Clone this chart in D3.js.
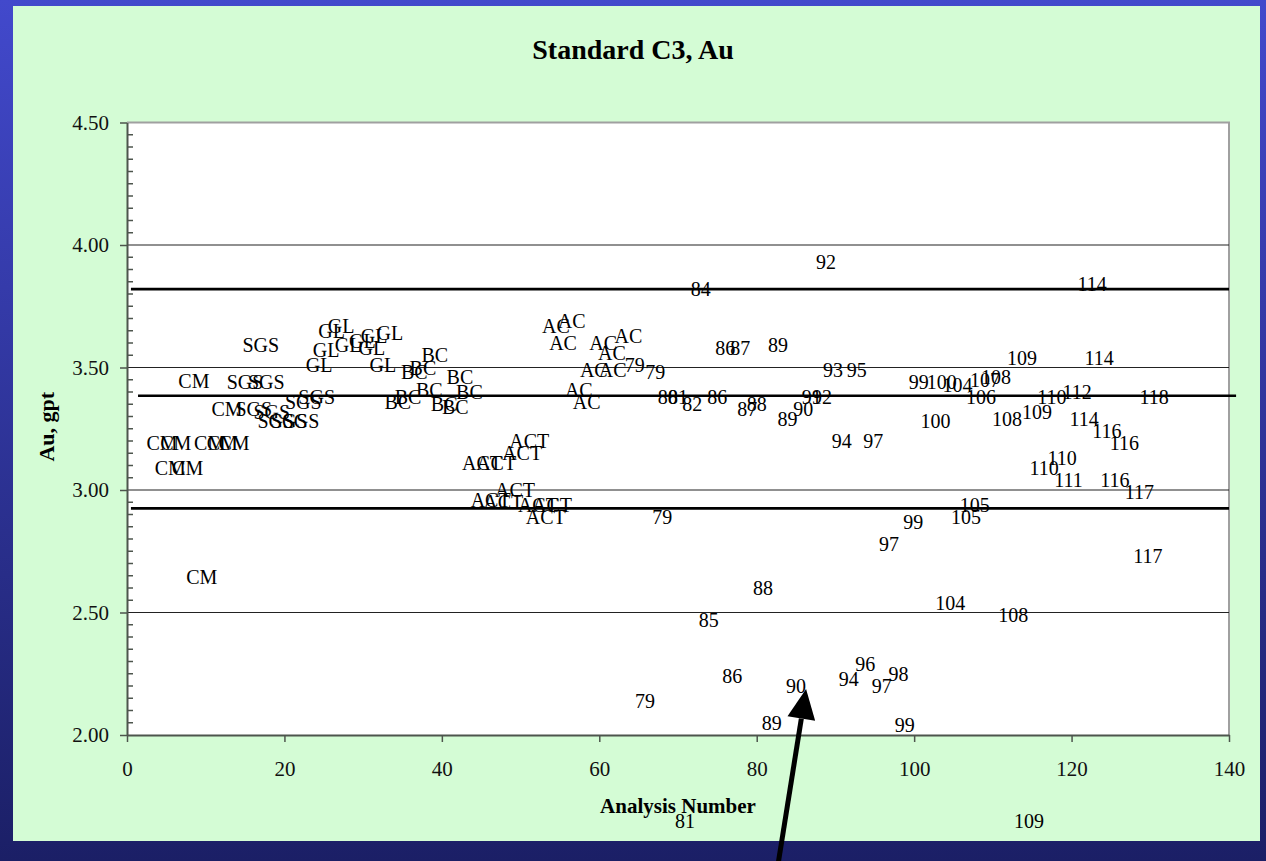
<!DOCTYPE html>
<html>
<head>
<meta charset="utf-8">
<script src="https://cdn.jsdelivr.net/npm/d3@7"></script>
<style>
  body { margin: 0; background: #1c2068; }
  svg { display: block; font-family: "Liberation Serif", "Times New Roman", serif; }
</style>
</head>
<body>
<script>
"use strict"

// labelled points, one pair of arrays per lab
const cmX = [8.5, 9.5, 4.45, 6.2, 10.5, 12.1, 13.6, 5.5, 7.7, 12.7];
const cmY = [3.445, 2.645, 3.19, 3.19, 3.19, 3.19, 3.19, 3.09, 3.09, 3.33];

const sgsX = [17.0, 15.0, 17.7, 22.4, 24.1, 16.1, 18.4, 18.9, 20.6, 22.1];
const sgsY = [3.59, 3.44, 3.44, 3.36, 3.38, 3.33, 3.32, 3.28, 3.28, 3.28];

const glX = [26.0, 27.2, 29.9, 31.4, 33.4, 25.3, 28.1, 31.1, 24.4, 32.5];
const glY = [3.65, 3.67, 3.61, 3.63, 3.64, 3.57, 3.59, 3.58, 3.51, 3.51];

const bcX = [39.1, 36.5, 37.6, 42.3, 38.4, 43.5, 34.4, 35.7, 40.3, 41.7];
const bcY = [3.55, 3.48, 3.50, 3.46, 3.41, 3.40, 3.36, 3.38, 3.35, 3.34];

const acX = [56.5, 54.5, 55.4, 60.5, 61.6, 63.7, 59.3, 61.7, 57.4, 58.4];
const acY = [3.69, 3.67, 3.60, 3.60, 3.56, 3.63, 3.49, 3.49, 3.41, 3.36];

const actX = [51.1, 50.2, 45.1, 46.9, 49.3, 46.2, 47.8, 52.2, 54.0, 53.2];
const actY = [3.20, 3.15, 3.11, 3.11, 3.00, 2.96, 2.95, 2.94, 2.94, 2.89];

const numLabel = ["79", "79", "80", "81", "82", "86", "87", "88", "89", "90",
  "91", "92", "93", "95", "94", "97", "86", "87", "89", "79",
  "84", "92", "114", "109", "114", "99", "100", "104", "107", "108",
  "106", "110", "112", "118", "100", "108", "109", "114", "116", "116",
  "110", "110", "111", "116", "117", "105", "105", "99", "97", "117",
  "88", "104", "108", "85", "96", "86", "98", "94", "97", "90",
  "79", "89", "99", "81", "109"];
const numX = [64.5, 67.1, 68.7, 70.0, 71.8, 75.0, 78.8, 80.0, 83.9, 85.9,
  87.0, 88.3, 89.7, 92.7, 90.8, 94.8, 76.0, 77.9, 82.7, 68.0,
  72.9, 88.8, 122.6, 113.7, 123.5, 100.6, 103.5, 105.5, 109.0, 110.4,
  108.5, 117.5, 120.7, 130.5, 102.7, 111.8, 115.6, 121.6, 124.5, 126.7,
  118.8, 116.5, 119.6, 125.5, 128.6, 107.7, 106.6, 99.9, 96.8, 129.7,
  80.8, 104.6, 112.6, 73.9, 93.8, 76.9, 98.0, 91.7, 95.9, 85.0,
  65.8, 81.9, 98.8, 70.9, 114.6];
const numY = [3.51, 3.48, 3.38, 3.38, 3.35, 3.38, 3.33, 3.35, 3.29, 3.33,
  3.38, 3.38, 3.49, 3.49, 3.20, 3.20, 3.58, 3.58, 3.59, 2.89,
  3.82, 3.93, 3.84, 3.54, 3.54, 3.44, 3.44, 3.43, 3.45, 3.46,
  3.38, 3.38, 3.40, 3.38, 3.28, 3.29, 3.32, 3.29, 3.24, 3.19,
  3.13, 3.09, 3.04, 3.04, 2.99, 2.94, 2.89, 2.87, 2.78, 2.73,
  2.60, 2.54, 2.49, 2.47, 2.29, 2.24, 2.25, 2.23, 2.20, 2.20,
  2.14, 2.05, 2.04, 1.65, 1.65];

// mean and +/- limits
const limitY = [3.82, 3.385, 2.925];
const limitStart = [0.5, 1.4, 0.5];
const limitEnd = [140, 140.9, 140];

const yTicks = [2.0, 2.5, 3.0, 3.5, 4.0, 4.5];
const xTicks = [0, 20, 40, 60, 80, 100, 120, 140];
const gridY = [2.5, 3.0, 3.5, 4.0];

// arrow annotation (tail, tip) in data units
const arrowTail = [82.6, 1.45];
const arrowTip = [86.27, 2.188];

const w = 1266;
const h = 861;
const plot = {left: 127, right: 1229, top: 122.5, bottom: 735};

const svg = d3.select('body')
	.append('svg')
	.attr('width', w)
	.attr('height', h);

const grad = svg.append('defs')
	.append('linearGradient')
	.attr('id', 'bg')
	.attr('x1', 0).attr('y1', 0)
	.attr('x2', 0).attr('y2', 1);
grad.append('stop').attr('offset', '0%').attr('stop-color', '#4249cc');
grad.append('stop').attr('offset', '100%').attr('stop-color', '#1b1f66');

svg.append('rect')
	.attr('width', w)
	.attr('height', h)
	.attr('fill', 'url(#bg)');

svg.append('rect')
	.attr('x', 13)
	.attr('y', 6)
	.attr('width', 1247)
	.attr('height', 835)
	.attr('fill', '#d4fcd5');

const xScale = d3.scaleLinear()
	.domain([0, 140])
	.range([plot.left, plot.right]);

const yScale = d3.scaleLinear()
	.domain([2, 4.5])
	.range([plot.bottom, plot.top]);

svg.append('rect')
	.attr('x', plot.left)
	.attr('y', plot.top)
	.attr('width', plot.right - plot.left)
	.attr('height', plot.bottom - plot.top)
	.attr('fill', '#fff');

// plot frame, top and right
svg.append('path')
	.attr('d', `M${plot.left},${plot.top}H${plot.right}V${plot.bottom}`)
	.attr('fill', 'none')
	.attr('stroke', '#a0a0a0')
	.attr('stroke-width', 2);

svg.append('g')
	.selectAll('line')
	.data(gridY)
	.enter()
	.append('line')
	.attr('x1', plot.left)
	.attr('x2', plot.right)
	.attr('y1', d => yScale(d))
	.attr('y2', d => yScale(d))
	.attr('stroke', '#222')
	.attr('stroke-width', 1.2);

// y axis: major ticks outside, minor ticks inside
const yMinor = d3.range(2, 4.5001, 0.05).filter(d => Math.abs(d * 2 - Math.round(d * 2)) > 0.01);

const yAxis = svg.append('g')
	.attr('transform', `translate(${plot.left},0)`)
	.call(d3.axisLeft(yScale).tickValues(yTicks).tickFormat(d3.format('.2f')).tickSize(7).tickSizeOuter(0));

yAxis.select('.domain').attr('stroke', '#4d554d').attr('stroke-width', 2);
yAxis.selectAll('.tick line').attr('stroke', '#4d554d').attr('stroke-width', 1.5);
yAxis.selectAll('.tick text')
	.attr('x', -18)
	.attr('dy', '0.33em')
	.attr('font-size', 21)
	.attr('font-family', '"Liberation Serif", serif')
	.attr('fill', '#111');

svg.append('g')
	.selectAll('line')
	.data(yMinor)
	.enter()
	.append('line')
	.attr('x1', plot.left)
	.attr('x2', plot.left + 6)
	.attr('y1', d => yScale(d))
	.attr('y2', d => yScale(d))
	.attr('stroke', '#4d554d')
	.attr('stroke-width', 1.5);

const xAxis = svg.append('g')
	.attr('transform', `translate(0,${plot.bottom})`)
	.call(d3.axisBottom(xScale).tickValues(xTicks).tickSize(7).tickSizeOuter(0));

xAxis.select('.domain').attr('stroke', '#4d554d').attr('stroke-width', 2);
xAxis.selectAll('.tick line').attr('stroke', '#4d554d').attr('stroke-width', 1.5);
xAxis.selectAll('.tick text')
	.attr('y', 34)
	.attr('dy', '0.33em')
	.attr('font-size', 21)
	.attr('font-family', '"Liberation Serif", serif')
	.attr('fill', '#111');

// limit lines
svg.append('g')
	.selectAll('line')
	.data(limitY)
	.enter()
	.append('line')
	.attr('x1', (d, i) => xScale(limitStart[i]))
	.attr('x2', (d, i) => xScale(limitEnd[i]))
	.attr('y1', d => yScale(d))
	.attr('y2', d => yScale(d))
	.attr('stroke', '#000')
	.attr('stroke-width', 2.6);

function pts(label, xs, ys) {
	return xs.map((x, i) => ({t: Array.isArray(label) ? label[i] : label, x: x, y: ys[i]}));
}

const points = [].concat(
	pts('CM', cmX, cmY),
	pts('SGS', sgsX, sgsY),
	pts('GL', glX, glY),
	pts('BC', bcX, bcY),
	pts('AC', acX, acY),
	pts('ACT', actX, actY),
	pts(numLabel, numX, numY)
);

svg.append('g')
	.selectAll('text')
	.data(points)
	.enter()
	.append('text')
	.attr('x', d => xScale(d.x))
	.attr('y', d => yScale(d.y))
	.attr('dy', '0.35em')
	.attr('text-anchor', 'middle')
	.attr('font-size', 20)
	.attr('fill', '#000')
	.text(d => d.t);

// titles
svg.append('text')
	.attr('x', 633)
	.attr('y', 59)
	.attr('text-anchor', 'middle')
	.attr('font-size', 28)
	.attr('font-weight', 'bold')
	.text('Standard C3, Au');

svg.append('text')
	.attr('x', (plot.left + plot.right) / 2)
	.attr('y', 813)
	.attr('text-anchor', 'middle')
	.attr('font-size', 21)
	.attr('font-weight', 'bold')
	.text('Analysis Number');

svg.append('text')
	.attr('transform', `translate(54,${(plot.top + plot.bottom) / 2 - 2}) rotate(-90)`)
	.attr('text-anchor', 'middle')
	.attr('font-size', 22)
	.attr('font-weight', 'bold')
	.text('Au, gpt');

// arrow pointing at analysis 90
const tail = [xScale(arrowTail[0]), yScale(arrowTail[1])];
const tip = [xScale(arrowTip[0]), yScale(arrowTip[1])];
const len = Math.hypot(tip[0] - tail[0], tip[1] - tail[1]);
const ux = (tip[0] - tail[0]) / len;
const uy = (tip[1] - tail[1]) / len;
const base = [tip[0] - 30 * ux, tip[1] - 30 * uy];

svg.append('line')
	.attr('x1', tail[0])
	.attr('y1', tail[1])
	.attr('x2', base[0])
	.attr('y2', base[1])
	.attr('stroke', '#000')
	.attr('stroke-width', 5);

svg.append('path')
	.attr('d', `M${tip[0]},${tip[1]}L${base[0] - 14 * uy},${base[1] + 14 * ux}L${base[0] + 14 * uy},${base[1] - 14 * ux}Z`)
	.attr('fill', '#000');
</script>
</body>
</html>
